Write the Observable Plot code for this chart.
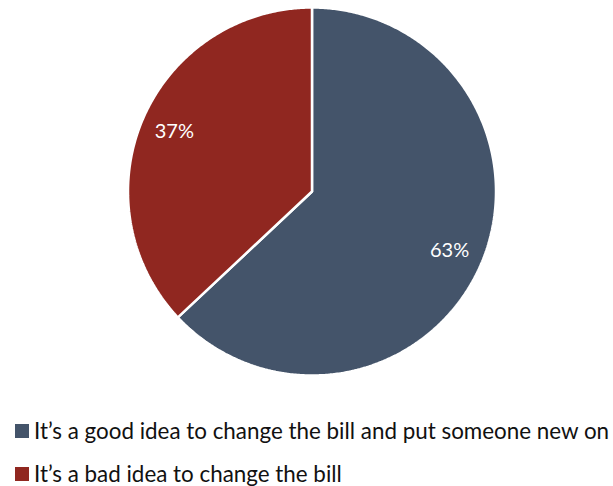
<!DOCTYPE html>
<html>
<head>
<meta charset="utf-8">
<script src="https://cdn.jsdelivr.net/npm/d3@7"></script>
<script src="https://cdn.jsdelivr.net/npm/@observablehq/plot@0.6"></script>
<style>
  html, body { margin: 0; padding: 0; background: #fff; }
  body { width: 613px; height: 486px; font-family: Lato, "Open Sans", sans-serif; position: relative; }
  .item { position: absolute; left: 15px; display: flex; align-items: center; height: 21px; line-height: 21px; font-size: 22.4px; color: #111; white-space: nowrap; }
  .sw { width: 14px; height: 14px; margin-right: 5px; flex: none; }
</style>
</head>
<body>
<div id="chart"></div>
<div id="legend"></div>
<script>
const categories = [
  "It’s a good idea to change the bill and put someone new on",
  "It’s a bad idea to change the bill"
];
const values = [63, 37];
const labels = ["63%", "37%"];
const colors = ["#44546A", "#902720"];

const total = d3.sum(values);
const slices = [];
const labelPts = [];
let acc = 0;
values.forEach((v, i) => {
  const a0 = acc / total * 2 * Math.PI;
  acc += v;
  const a1 = acc / total * 2 * Math.PI;
  const n = Math.max(2, Math.ceil((a1 - a0) / (Math.PI / 360)));
  slices.push({cat: categories[i], x: 0, y: 0});
  for (let j = 0; j <= n; j++) {
    const a = a0 + (a1 - a0) * j / n;
    slices.push({cat: categories[i], x: Math.sin(a), y: Math.cos(a)});
  }
  slices.push({cat: categories[i], x: 0, y: 0});
  const am = (a0 + a1) / 2;
  labelPts.push({cat: categories[i], x: 0.815 * Math.sin(am), y: 0.815 * Math.cos(am), label: labels[i]});
});

const chart = Plot.plot({
  width: 613,
  height: 390,
  marginLeft: 127.5,
  marginRight: 117.5,
  marginTop: 7,
  marginBottom: 15,
  x: {domain: [-1, 1], axis: null},
  y: {domain: [-1, 1], axis: null},
  color: {domain: categories, range: colors},
  style: {fontFamily: "Lato, 'Open Sans', sans-serif"},
  marks: [
    Plot.line(slices, {x: "x", y: "y", z: "cat", fill: "cat", stroke: "white", strokeWidth: 2.5, strokeLinejoin: "miter", curve: "linear"}),
    Plot.text(labelPts, {x: "x", y: "y", text: "label", fill: "white", fontSize: 20})
  ]
});
document.getElementById("chart").appendChild(chart);

const legend = document.getElementById("legend");
const tops = [420, 463];
categories.forEach((c, i) => {
  const it = document.createElement("div");
  it.className = "item";
  it.style.top = tops[i] + "px";
  const sw = document.createElement("span");
  sw.className = "sw";
  sw.style.background = colors[i];
  const t = document.createElement("span");
  t.textContent = c;
  it.appendChild(sw);
  it.appendChild(t);
  legend.appendChild(it);
});
</script>
</body>
</html>
